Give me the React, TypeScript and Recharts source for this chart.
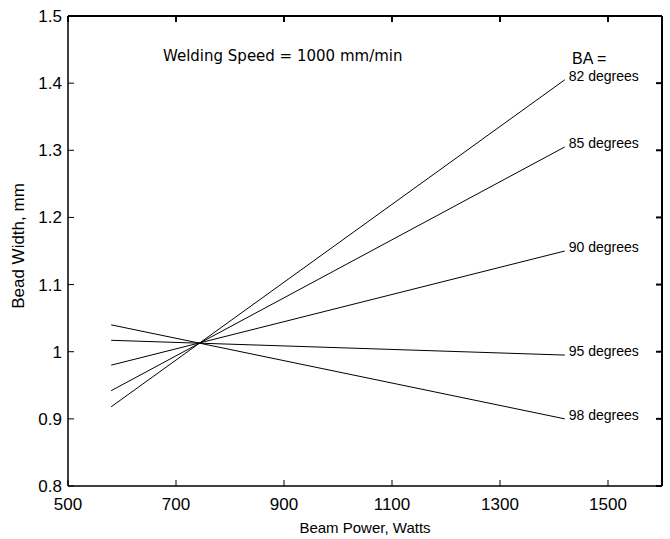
import React from 'react';
import { LineChart, Line, XAxis, YAxis, ReferenceArea } from 'recharts';

// beam power (W) at the two ends of each fitted line
const power = [580, 1420];

// bead width (mm) for each beam angle
const bw82 = [0.918, 1.405];
const bw85 = [0.942, 1.305];
const bw90 = [0.98, 1.15];
const bw95 = [1.017, 0.995];
const bw98 = [1.04, 0.9];

const series = [
  { key: 'ba82', name: '82 degrees', values: bw82 },
  { key: 'ba85', name: '85 degrees', values: bw85 },
  { key: 'ba90', name: '90 degrees', values: bw90 },
  { key: 'ba95', name: '95 degrees', values: bw95 },
  { key: 'ba98', name: '98 degrees', values: bw98 },
];

const xDomain = [500, 1600];
const yDomain = [0.8, 1.5];
const xTicks = [500, 700, 900, 1100, 1300, 1500];
const yTicks = [0.8, 0.9, 1, 1.1, 1.2, 1.3, 1.4, 1.5];

const rows = power.map((p, i) => {
  const row: any = { power: p };
  series.forEach(s => { row[s.key] = s.values[i]; });
  return row;
});

const FONT = '"Liberation Sans", Arial, Helvetica, sans-serif';
const TICK = 6;
const frame = { stroke: '#000', strokeWidth: 1 };
const farFrame = { stroke: '#000', strokeWidth: 2 };

const BottomTick = ({ x, y, payload }: any) => (
  <g>
    <line x1={x} x2={x} y1={y} y2={y - TICK} {...frame} />
    <text x={x} y={y + 24} textAnchor="middle" fontSize={17} fontFamily={FONT} fill="#000">
      {payload.value}
    </text>
  </g>
);

const TopTick = ({ x, y }: any) => (
  <line x1={x} x2={x} y1={y} y2={y + TICK} {...farFrame} />
);

const LeftTick = ({ x, y, payload }: any) => (
  <g>
    <line x1={x} x2={x + TICK} y1={y} y2={y} {...frame} />
    <text x={x - 6} y={y + 6} textAnchor="end" fontSize={17} fontFamily={FONT} fill="#000">
      {String(payload.value)}
    </text>
  </g>
);

const RightTick = ({ x, y }: any) => (
  <line x1={x} x2={x - TICK} y1={y} y2={y} {...farFrame} />
);

const endLabel = (name: string) => (props: any) => {
  if (props.index !== power.length - 1) return null;
  return (
    <text x={props.x + 4} y={props.y + 1} fontSize={14} fontFamily={FONT} fill="#000">
      {name}
    </text>
  );
};

export default function App() {
  return (
    <div style={{ position: 'absolute', left: 0, top: 0, width: 670, height: 539, background: '#fff' }}>
      {/* annotation texts sit underneath the chart layer */}
      <svg width={670} height={539} style={{ position: 'absolute', left: 0, top: 0 }}>
        <text x={163} y={61} fontSize={15} fontFamily='"DejaVu Sans", sans-serif' fill="#000">
          Welding Speed = 1000 mm/min
        </text>
        <text x={572} y={64} fontSize={16} fontFamily={FONT} fill="#000">BA =</text>
        <text x={365} y={533} textAnchor="middle" fontSize={15} fontFamily={FONT} fill="#000">
          Beam Power, Watts
        </text>
        <text
          x={0} y={0} transform="translate(24,246) rotate(-90)" textAnchor="middle"
          fontSize={17} fontFamily={FONT} fill="#000"
        >
          Bead Width, mm
        </text>
      </svg>
      <div style={{ position: 'absolute', left: 0, top: 0 }}>
        <LineChart width={670} height={539} data={rows} margin={{ top: 0, right: 0, bottom: 0, left: 0 }}>
          <XAxis
            xAxisId="b" dataKey="power" type="number" domain={xDomain} ticks={xTicks}
            interval={0} height={53} tickSize={0} tickMargin={0} tickLine={false}
            axisLine={frame} tick={<BottomTick />}
          />
          <XAxis
            xAxisId="t" orientation="top" dataKey="power" type="number" domain={xDomain} ticks={xTicks}
            interval={0} height={16} tickSize={0} tickMargin={0} tickLine={false}
            axisLine={farFrame} tick={<TopTick />}
          />
          <YAxis
            yAxisId="l" type="number" domain={yDomain} ticks={yTicks} interval={0}
            width={68} tickSize={0} tickMargin={0} tickLine={false}
            axisLine={frame} tick={<LeftTick />}
          />
          <YAxis
            yAxisId="r" orientation="right" type="number" domain={yDomain} ticks={yTicks} interval={0}
            width={8} tickSize={0} tickMargin={0} tickLine={false}
            axisLine={farFrame} tick={<RightTick />}
          />
          {/* plot box */}
          <ReferenceArea
            xAxisId="b" yAxisId="l" x1={xDomain[0]} x2={xDomain[1]} y1={yDomain[0]} y2={yDomain[1]}
            fill="none" fillOpacity={0} stroke="#000" strokeWidth={1} ifOverflow="visible"
          />
          {/* invisible series so the top/right frame axes get drawn */}
          <Line
            xAxisId="t" yAxisId="r" dataKey="ba82" stroke="none" dot={false}
            legendType="none" isAnimationActive={false}
          />
          {series.map(s => (
            <Line
              key={s.key} xAxisId="b" yAxisId="l" dataKey={s.key} name={s.name}
              stroke="#000" strokeWidth={1} dot={false} isAnimationActive={false}
              label={endLabel(s.name)}
            />
          ))}
        </LineChart>
      </div>
    </div>
  );
}
